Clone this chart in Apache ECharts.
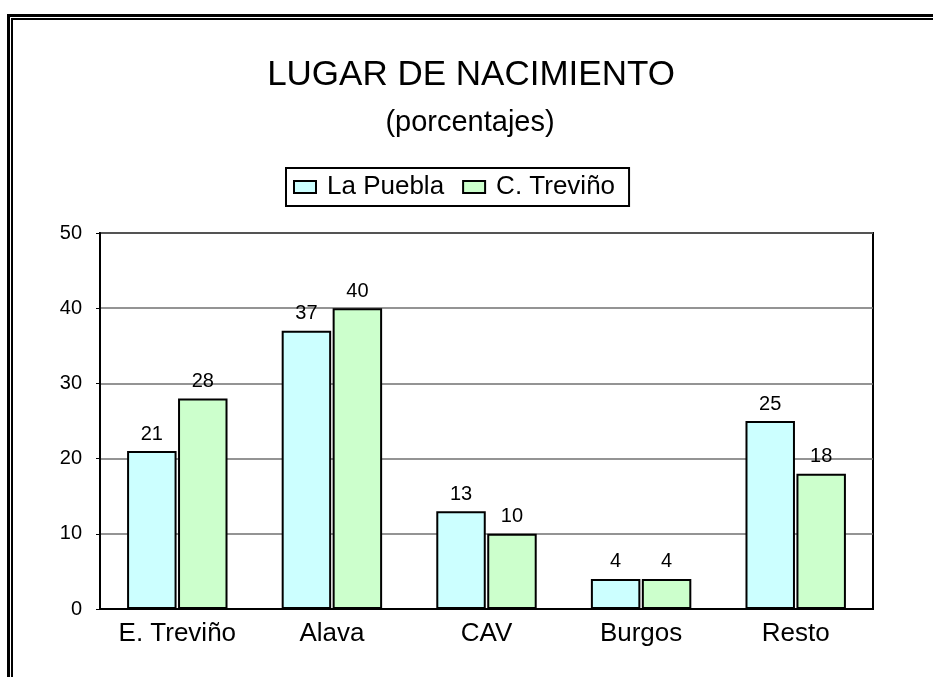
<!DOCTYPE html>
<html>
<head>
<meta charset="utf-8">
<title>Lugar de nacimiento</title>
<script src="https://cdn.jsdelivr.net/npm/echarts@6/dist/echarts.min.js"></script>
<style>
  html, body { margin: 0; padding: 0; background: #fff; }
  #chart { width: 933px; height: 677px; }
</style>
</head>
<body>
<div id="chart"></div>
<script>
const categories = ['E. Treviño', 'Alava', 'CAV', 'Burgos', 'Resto']
const laPuebla = [21, 37, 13, 4, 25]
const cTrevino = [28, 40, 10, 4, 18]
const yTicks = [0, 10, 20, 30, 40, 50]

const font = '"Liberation Sans", Arial, sans-serif'

const chart = echarts.init(document.getElementById('chart'))

chart.setOption({
  backgroundColor: '#fff',
  animation: false,
  textStyle: { fontFamily: font, color: '#000' },
  // doble marco a la izquierda y arriba
  graphic: [
    { type: 'rect', shape: { x: 7, y: 14, width: 926, height: 3 }, style: { fill: '#000' } },
    { type: 'rect', shape: { x: 7, y: 14, width: 3, height: 663 }, style: { fill: '#000' } },
    { type: 'rect', shape: { x: 11, y: 18, width: 922, height: 2 }, style: { fill: '#000' } },
    { type: 'rect', shape: { x: 11, y: 18, width: 2, height: 659 }, style: { fill: '#000' } }
  ],
  title: [
    {
      text: 'LUGAR DE NACIMIENTO',
      left: 466,
      textAlign: 'center',
      top: 53,
      textStyle: { fontFamily: font, fontSize: 35, fontWeight: 'normal', color: '#000' }
    },
    {
      text: '(porcentajes)',
      left: 465,
      textAlign: 'center',
      top: 103,
      textStyle: { fontFamily: font, fontSize: 29, fontWeight: 'normal', color: '#000' }
    }
  ],
  legend: {
    data: ['La Puebla', 'C. Treviño'],
    left: 286,
    top: 168,
    padding: [6, 14, 6, 7],
    borderColor: '#000',
    borderWidth: 2,
    itemWidth: 22,
    itemHeight: 12,
    itemGap: 18,
    icon: 'rect',
    textStyle: { fontFamily: font, fontSize: 26, color: '#000', padding: [0, 0, 0, 6] }
  },
  grid: {
    left: 100,
    right: 60,
    top: 233,
    bottom: 68,
    show: true,
    borderColor: '#000',
    borderWidth: 2,
    backgroundColor: 'transparent'
  },
  xAxis: {
    type: 'category',
    data: categories,
    axisLine: { show: true, lineStyle: { color: '#000', width: 2 } },
    axisTick: { show: false },
    axisLabel: { fontFamily: font, fontSize: 26, color: '#000', margin: 12 }
  },
  yAxis: {
    type: 'value',
    min: yTicks[0],
    max: yTicks[yTicks.length - 1],
    interval: 10,
    axisLine: { show: true, lineStyle: { color: '#000', width: 2 } },
    axisTick: { show: true, inside: false, length: 4, lineStyle: { color: '#000', width: 1 } },
    axisLabel: { fontFamily: font, fontSize: 20, color: '#000', margin: 18 },
    splitLine: { show: true, lineStyle: { color: '#707070', width: 1.5 } }
  },
  series: [
    {
      name: 'La Puebla',
      type: 'bar',
      data: laPuebla,
      barWidth: '32%',
      barGap: '3%',
      itemStyle: { color: '#CCFFFF', borderColor: '#000', borderWidth: 2 },
      label: { show: true, position: 'top', distance: 7, fontFamily: font, fontSize: 20, color: '#000' }
    },
    {
      name: 'C. Treviño',
      type: 'bar',
      data: cTrevino,
      barWidth: '32%',
      barGap: '3%',
      itemStyle: { color: '#CCFFCC', borderColor: '#000', borderWidth: 2 },
      label: { show: true, position: 'top', distance: 7, fontFamily: font, fontSize: 20, color: '#000' }
    }
  ]
})
</script>
</body>
</html>
